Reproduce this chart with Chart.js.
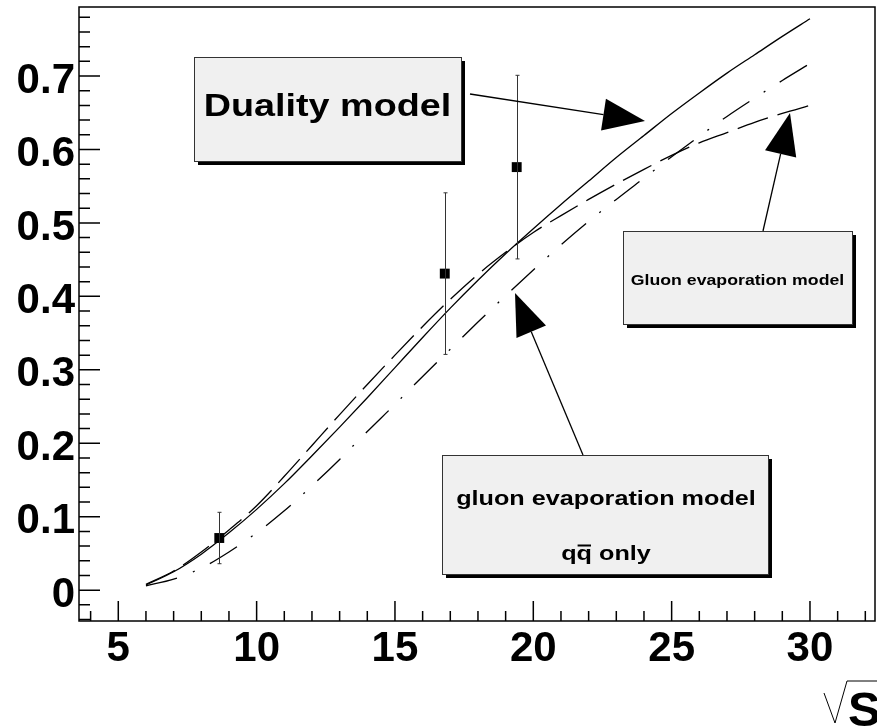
<!DOCTYPE html>
<html lang="en">
<head>
    <meta charset="UTF-8">
    <title>Duality vs gluon evaporation</title>
    <script src="https://cdn.jsdelivr.net/npm/chart.js"></script>
    <style>
        body {
            margin: 0;
            background-color: #ffffff;
        }
        #chart {
            display: block;
        }
    </style>
</head>
<body>
    <canvas id="chart" width="877" height="728"></canvas>

    <script>
        // sqrt(s) values where the model curves are sampled
        const sqrtS = [6, 7, 8, 9, 10, 11, 12, 13, 14, 15, 16, 17, 18, 19, 20, 21, 22, 23, 24, 25, 26, 27, 28, 29, 30];
        const dualityModel = [0.007, 0.025, 0.049, 0.078, 0.110, 0.145, 0.183, 0.222, 0.262, 0.303, 0.344, 0.384, 0.422, 0.458, 0.492, 0.525, 0.557, 0.589, 0.619, 0.649, 0.677, 0.704, 0.729, 0.754, 0.778];
        const gluonEvap = [0.008, 0.026, 0.052, 0.082, 0.115, 0.155, 0.197, 0.239, 0.280, 0.320, 0.359, 0.396, 0.430, 0.460, 0.487, 0.510, 0.532, 0.553, 0.573, 0.592, 0.609, 0.623, 0.637, 0.649, 0.660];
        const gluonEvapQQ = [0.006, 0.015, 0.030, 0.052, 0.078, 0.108, 0.142, 0.178, 0.216, 0.253, 0.291, 0.328, 0.365, 0.401, 0.436, 0.470, 0.502, 0.532, 0.561, 0.590, 0.618, 0.645, 0.670, 0.694, 0.717];

        // measured points with symmetric errors
        const dataX = [8.65, 16.8, 19.4];
        const dataY = [0.071, 0.431, 0.576];
        const dataErr = [0.035, 0.110, 0.125];

        const xTicks = [5, 10, 15, 20, 25, 30];
        const yTicks = [0, 0.1, 0.2, 0.3, 0.4, 0.5, 0.6, 0.7];

        function toPoints(xs, ys) {
            return xs.map((x, i) => ({ x: x, y: ys[i] }));
        }

        // text in the ROOT boxes is a bit wider than plain Helvetica
        function stretchedText(ctx, text, cx, base, size, sx) {
            ctx.save();
            ctx.font = 'bold ' + size + 'px "Liberation Sans", Arial, sans-serif';
            ctx.translate(cx, base);
            ctx.scale(sx, 1);
            ctx.textAlign = 'center';
            ctx.textBaseline = 'alphabetic';
            ctx.fillStyle = '#000';
            ctx.fillText(text, 0, 0);
            ctx.restore();
        }

        function pave(ctx, x, y, w, h) {
            ctx.fillStyle = '#000';
            ctx.fillRect(x + 4, y + 4, w, h);
            ctx.fillStyle = '#f0f0f0';
            ctx.fillRect(x, y, w, h);
            ctx.strokeStyle = '#333';
            ctx.lineWidth = 1;
            ctx.strokeRect(x + 0.5, y + 0.5, w, h);
        }

        function arrow(ctx, x1, y1, x2, y2) {
            var ang = Math.atan2(y2 - y1, x2 - x1);
            var len = 42, half = 16;
            var bx = x2 - len * Math.cos(ang), by = y2 - len * Math.sin(ang);
            ctx.strokeStyle = '#000';
            ctx.lineWidth = 1.3;
            ctx.beginPath();
            ctx.moveTo(x1, y1);
            ctx.lineTo(bx, by);
            ctx.stroke();
            ctx.fillStyle = '#000';
            ctx.beginPath();
            ctx.moveTo(x2, y2);
            ctx.lineTo(bx + half * Math.sin(ang), by - half * Math.cos(ang));
            ctx.lineTo(bx - half * Math.sin(ang), by + half * Math.cos(ang));
            ctx.closePath();
            ctx.fill();
        }

        const rootStyle = {
            id: 'rootStyle',
            afterDatasetsDraw(chart) {
                var ctx = chart.ctx;
                var xs = chart.scales.x, ys = chart.scales.y;
                var a = chart.chartArea;

                ctx.save();
                // error bars
                ctx.strokeStyle = '#333';
                ctx.lineWidth = 1;
                dataX.forEach(function (x, i) {
                    var px = Math.round(xs.getPixelForValue(x)) + 0.5;
                    var top = ys.getPixelForValue(dataY[i] + dataErr[i]);
                    var bot = ys.getPixelForValue(dataY[i] - dataErr[i]);
                    ctx.beginPath();
                    ctx.moveTo(px, top);
                    ctx.lineTo(px, bot);
                    ctx.moveTo(px - 2, top);
                    ctx.lineTo(px + 2, top);
                    ctx.moveTo(px - 2, bot);
                    ctx.lineTo(px + 2, bot);
                    ctx.stroke();
                });

                // frame
                ctx.strokeStyle = '#000';
                ctx.lineWidth = 1.5;
                ctx.strokeRect(a.left, a.top, a.right - a.left, a.bottom - a.top);

                // ticks pointing inward
                ctx.beginPath();
                for (var v = 4; v <= 32; v++) {
                    var px = xs.getPixelForValue(v);
                    var l = (v % 5 === 0) ? 20 : 10;
                    ctx.moveTo(px, a.bottom);
                    ctx.lineTo(px, a.bottom - l);
                }
                for (var k = -2; k <= 39; k++) {
                    var py = ys.getPixelForValue(k * 0.02);
                    if (py < a.top || py > a.bottom) continue;
                    var l2 = (k % 5 === 0) ? 21 : 11;
                    ctx.moveTo(a.left, py);
                    ctx.lineTo(a.left + l2, py);
                }
                ctx.stroke();

                // annotation boxes
                pave(ctx, 194, 57, 267, 104);
                stretchedText(ctx, 'Duality model', 327.5, 115.5, 32, 1.18);

                pave(ctx, 623, 231, 229, 93);
                stretchedText(ctx, 'Gluon evaporation model', 737.5, 285, 15, 1.18);

                pave(ctx, 442, 455, 326, 119);
                stretchedText(ctx, 'gluon evaporation model', 606, 505, 21, 1.2);
                stretchedText(ctx, 'qq only', 606, 560, 21, 1.2);
                // bar over the second q
                ctx.font = 'bold 21px "Liberation Sans", Arial, sans-serif';
                var wAll = ctx.measureText('qq only').width * 1.2;
                var wq = ctx.measureText('q').width * 1.2;
                var left = 606 - wAll / 2;
                ctx.strokeStyle = '#000';
                ctx.lineWidth = 2;
                ctx.beginPath();
                ctx.moveTo(left + wq + 1, 545.5);
                ctx.lineTo(left + 2 * wq - 1, 545.5);
                ctx.stroke();

                // arrows
                arrow(ctx, 470, 94, 645, 121);
                arrow(ctx, 763, 231, 790, 113);
                arrow(ctx, 583, 455, 515, 293);

                // sqrt(s) axis title
                ctx.strokeStyle = '#000';
                ctx.lineWidth = 1;
                ctx.beginPath();
                ctx.moveTo(824, 693);
                ctx.lineTo(835, 723);
                ctx.lineTo(847, 681);
                ctx.lineTo(877, 681);
                ctx.stroke();
                ctx.fillStyle = '#000';
                ctx.font = 'bold 49px "Liberation Sans", Arial, sans-serif';
                ctx.textAlign = 'left';
                ctx.textBaseline = 'alphabetic';
                ctx.fillText('S', 848, 726);
                ctx.restore();
            }
        };

        const lineStyle = {
            borderColor: '#000',
            borderWidth: 1.3,
            pointRadius: 0,
            fill: false,
            cubicInterpolationMode: 'monotone'
        };

        new Chart(document.getElementById('chart'), {
            type: 'line',
            data: {
                datasets: [
                    Object.assign({ label: 'Duality model', data: toPoints(sqrtS, dualityModel) }, lineStyle),
                    Object.assign({ label: 'Gluon evaporation model', data: toPoints(sqrtS, gluonEvap), borderDash: [32, 10] }, lineStyle),
                    Object.assign({ label: 'gluon evaporation model, qq only', data: toPoints(sqrtS, gluonEvapQQ), borderDash: [32, 17, 2, 17] }, lineStyle),
                    {
                        label: 'data',
                        type: 'scatter',
                        data: toPoints(dataX, dataY),
                        pointStyle: 'rect',
                        pointRadius: 7,
                        backgroundColor: '#000',
                        borderColor: '#000',
                        borderWidth: 0
                    }
                ]
            },
            options: {
                responsive: false,
                animation: false,
                layout: { autoPadding: false, padding: { top: 7, right: 2, left: 0, bottom: 0 } },
                plugins: {
                    legend: { display: false },
                    tooltip: { enabled: false }
                },
                scales: {
                    x: {
                        type: 'linear',
                        min: 3.58,
                        max: 32.35,
                        grid: { display: false, drawTicks: false },
                        border: { display: false },
                        afterBuildTicks: s => { s.ticks = xTicks.map(v => ({ value: v })); },
                        afterFit: s => { s.height = 107; s.paddingLeft = 0; s.paddingRight = 0; },
                        ticks: {
                            maxRotation: 0,
                            padding: 3,
                            color: '#000',
                            font: { family: '"Liberation Sans", Arial, sans-serif', size: 42, weight: 'bold' }
                        }
                    },
                    y: {
                        min: -0.042,
                        max: 0.794,
                        grid: { display: false, drawTicks: false },
                        border: { display: false },
                        afterBuildTicks: s => { s.ticks = yTicks.map(v => ({ value: v })); },
                        afterFit: s => { s.width = 79; s.paddingTop = 0; s.paddingBottom = 0; },
                        ticks: {
                            padding: 4,
                            labelOffset: 5,
                            color: '#000',
                            font: { family: '"Liberation Sans", Arial, sans-serif', size: 42, weight: 'bold' },
                            callback: v => v === 0 ? '0' : v.toFixed(1)
                        }
                    }
                }
            },
            plugins: [rootStyle]
        });
    </script>
</body>
</html>
